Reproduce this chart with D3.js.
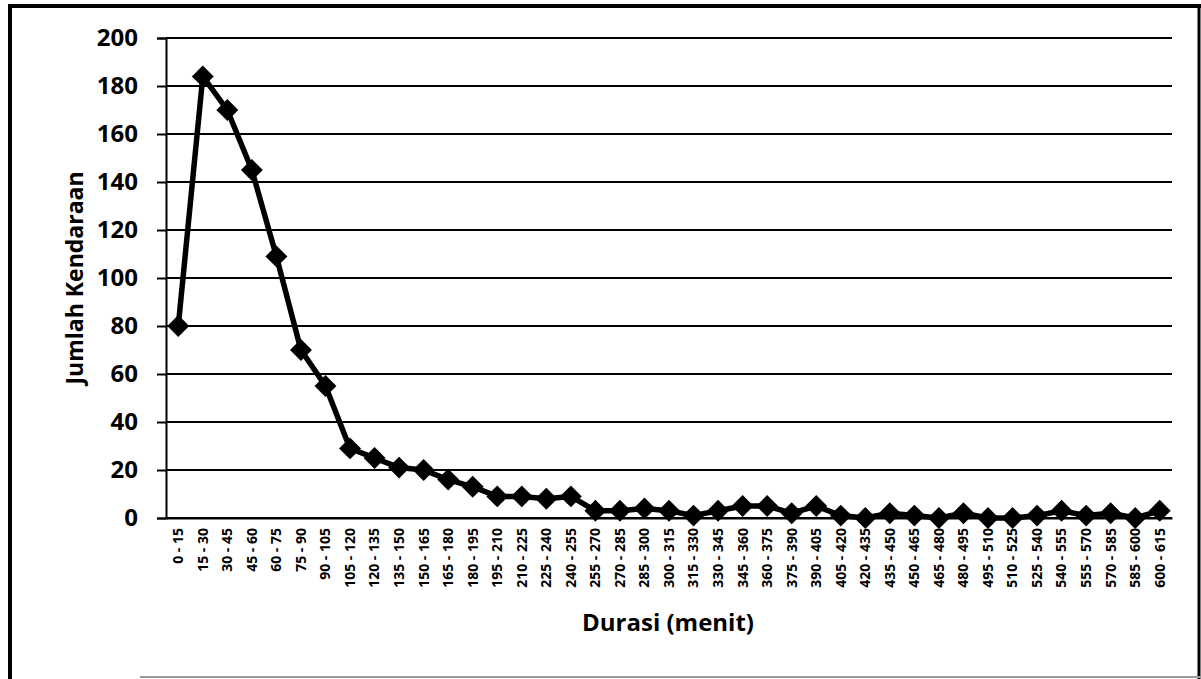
<!DOCTYPE html>
<html>
<head>
<meta charset="utf-8">
<script src="https://cdn.jsdelivr.net/npm/d3@7"></script>
<style>
  body { margin: 0; background: #fff; }
  svg { display: block; font-family: "Open Sans", "DejaVu Sans", sans-serif; }
</style>
</head>
<body>
<svg id="chart" width="1201" height="679"></svg>
<script>
// durasi categories (menit)
const categories = [
  "0 - 15", "15 - 30", "30 - 45", "45 - 60", "60 - 75", "75 - 90", "90 - 105",
  "105 - 120", "120 - 135", "135 - 150", "150 - 165", "165 - 180", "180 - 195",
  "195 - 210", "210 - 225", "225 - 240", "240 - 255", "255 - 270", "270 - 285",
  "285 - 300", "300 - 315", "315 - 330", "330 - 345", "345 - 360", "360 - 375",
  "375 - 390", "390 - 405", "405 - 420", "420 - 435", "435 - 450", "450 - 465",
  "465 - 480", "480 - 495", "495 - 510", "510 - 525", "525 - 540", "540 - 555",
  "555 - 570", "570 - 585", "585 - 600", "600 - 615"
];
// jumlah kendaraan
const values = [
  80, 184, 170, 145, 109, 70, 55, 29, 25, 21, 20, 16, 13, 9, 9, 8, 9,
  3, 3, 4, 3, 1, 3, 5, 5, 2, 5, 1, 0, 2, 1, 0, 2, 0, 0, 1, 3, 1, 2, 0, 3
];
const yTicks = [0, 20, 40, 60, 80, 100, 120, 140, 160, 180, 200];

const rows = categories.map((c, i) => ({ cat: c, value: values[i] }));

const svg = d3.select("#chart");

// outer frame (scanned border)
svg.append("rect").attr("x", 0).attr("y", 0).attr("width", 1201).attr("height", 679).attr("fill", "#fff");
svg.append("line").attr("x1", 10).attr("y1", 6).attr("x2", 10).attr("y2", 679)
  .attr("stroke", "#000").attr("stroke-width", 4);
svg.append("line").attr("x1", 8).attr("y1", 6).attr("x2", 1201).attr("y2", 6)
  .attr("stroke", "#000").attr("stroke-width", 4);
svg.append("line").attr("x1", 1199).attr("y1", 6).attr("x2", 1199).attr("y2", 679)
  .attr("stroke", "#000").attr("stroke-width", 3);
svg.append("line").attr("x1", 140).attr("y1", 677).attr("x2", 1201).attr("y2", 677)
  .attr("stroke", "#999").attr("stroke-width", 2);

const margin = { left: 166, right: 1172, top: 38, bottom: 518 };

const x = d3.scaleBand().domain(categories).range([margin.left, margin.right]);
const y = d3.scaleLinear().domain([0, 200]).range([margin.bottom, margin.top]);

// gridlines
svg.append("g")
  .selectAll("line")
  .data(yTicks)
  .join("line")
  .attr("x1", margin.left)
  .attr("x2", margin.right)
  .attr("y1", d => y(d))
  .attr("y2", d => y(d))
  .attr("stroke", "#000")
  .attr("stroke-width", 2);

// y axis
const yAxis = svg.append("g")
  .attr("transform", "translate(" + margin.left + ",0)")
  .call(d3.axisLeft(y).tickValues(yTicks).tickSize(9).tickPadding(19));
yAxis.select(".domain").attr("stroke", "#000").attr("stroke-width", 2);
yAxis.selectAll(".tick line").attr("stroke", "#000").attr("stroke-width", 2);
yAxis.selectAll(".tick text")
  .attr("font-size", "24px")
  .attr("font-weight", "bold")
  .attr("font-family", "Open Sans, sans-serif")
  .attr("fill", "#000");

// x axis
const xAxis = svg.append("g")
  .attr("transform", "translate(0," + margin.bottom + ")")
  .call(d3.axisBottom(x).tickSize(0).tickPadding(0));
xAxis.select(".domain").attr("stroke", "#000").attr("stroke-width", 2);
xAxis.selectAll(".tick text")
  .attr("transform", "rotate(-90)")
  .attr("x", -10)
  .attr("y", 0)
  .attr("dy", "0.35em")
  .style("text-anchor", "end")
  .attr("font-size", "14px")
  .attr("font-weight", "bold")
  .attr("font-family", "Open Sans, sans-serif")
  .attr("fill", "#000");

// line
const line = d3.line()
  .x(d => x(d.cat) + x.bandwidth() / 2)
  .y(d => y(d.value));

svg.append("path")
  .datum(rows)
  .attr("fill", "none")
  .attr("stroke", "#000")
  .attr("stroke-width", 5.5)
  .attr("stroke-linejoin", "round")
  .attr("d", line);

// diamond markers
const diamond = d3.symbol().type(d3.symbolSquare).size(240);
svg.append("g")
  .selectAll("path")
  .data(rows)
  .join("path")
  .attr("d", diamond)
  .attr("transform", d => "translate(" + (x(d.cat) + x.bandwidth() / 2) + "," + y(d.value) + ") rotate(45)")
  .attr("fill", "#000");

// axis titles
svg.append("text")
  .attr("transform", "translate(83," + ((margin.top + margin.bottom) / 2) + ") rotate(-90)")
  .attr("text-anchor", "middle")
  .attr("font-size", "23px")
  .attr("font-weight", "bold")
  .text("Jumlah Kendaraan");

svg.append("text")
  .attr("x", 668)
  .attr("y", 631)
  .attr("text-anchor", "middle")
  .attr("font-size", "24px")
  .attr("font-weight", "bold")
  .text("Durasi (menit)");
</script>
</body>
</html>
